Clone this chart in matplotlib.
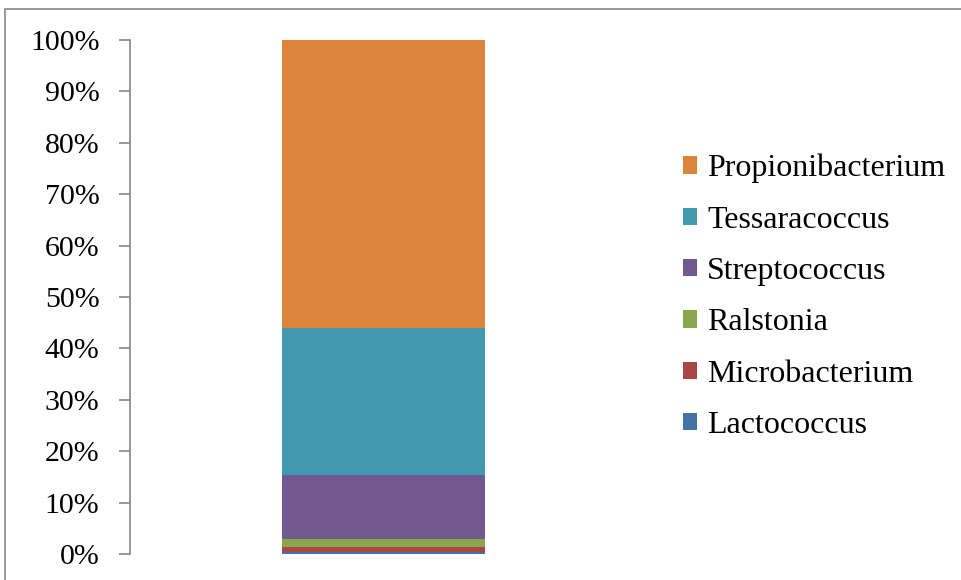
import matplotlib.pyplot as plt
from matplotlib.patches import Rectangle
from matplotlib.ticker import PercentFormatter

plt.rcParams['font.family'] = ['Liberation Serif', 'DejaVu Serif']

# genera, bottom to top, share in %
genera = ['Lactococcus', 'Microbacterium', 'Ralstonia', 'Streptococcus',
          'Tessaracoccus', 'Propionibacterium']
shares = [0.4, 1.0, 1.5, 12.5, 28.6, 56.0]
colors = ['#4572A7', '#AA4643', '#89A54E', '#71588F', '#4198AF', '#DD843C']

W, H = 961, 580
fig = plt.figure(figsize=(W / 100, H / 100), dpi=100)
ax = fig.add_axes([130 / W, (H - 554) / H, 507 / W, 514 / H])

bottom = 0
for g, v, c in zip(genera, shares, colors):
    ax.bar(0, v, bottom=bottom, width=0.4, color=c, label=g)
    bottom += v

ax.set_xlim(-0.5, 0.5)
ax.set_ylim(0, 100)
ax.set_yticks(range(0, 101, 10))
ax.yaxis.set_major_formatter(PercentFormatter(decimals=0))
ax.set_xticks([])
for s in ['top', 'right', 'bottom']:
    ax.spines[s].set_visible(False)
ax.spines['left'].set_color('#868686')
ax.spines['left'].set_linewidth(1.2)
ax.tick_params(axis='y', color='#868686', length=8, width=1.2, labelsize=21.5, pad=14)

# legend, top entry first
h, l = ax.get_legend_handles_labels()
fig.legend(h[::-1], l[::-1], loc='center left', bbox_to_anchor=(683 / W, 1 - 297 / H),
           frameon=False, fontsize=23, handlelength=0.45, handleheight=0.45,
           handletextpad=0.3, labelspacing=0.7, borderpad=0, borderaxespad=0)

# chart area border
fig.patches.append(Rectangle((5 / W, -0.1), 1.1, 1 - 9 / H + 0.1, transform=fig.transFigure,
                             fill=False, edgecolor='#868686', linewidth=1.2))

fig.savefig('out.png', dpi=100)
